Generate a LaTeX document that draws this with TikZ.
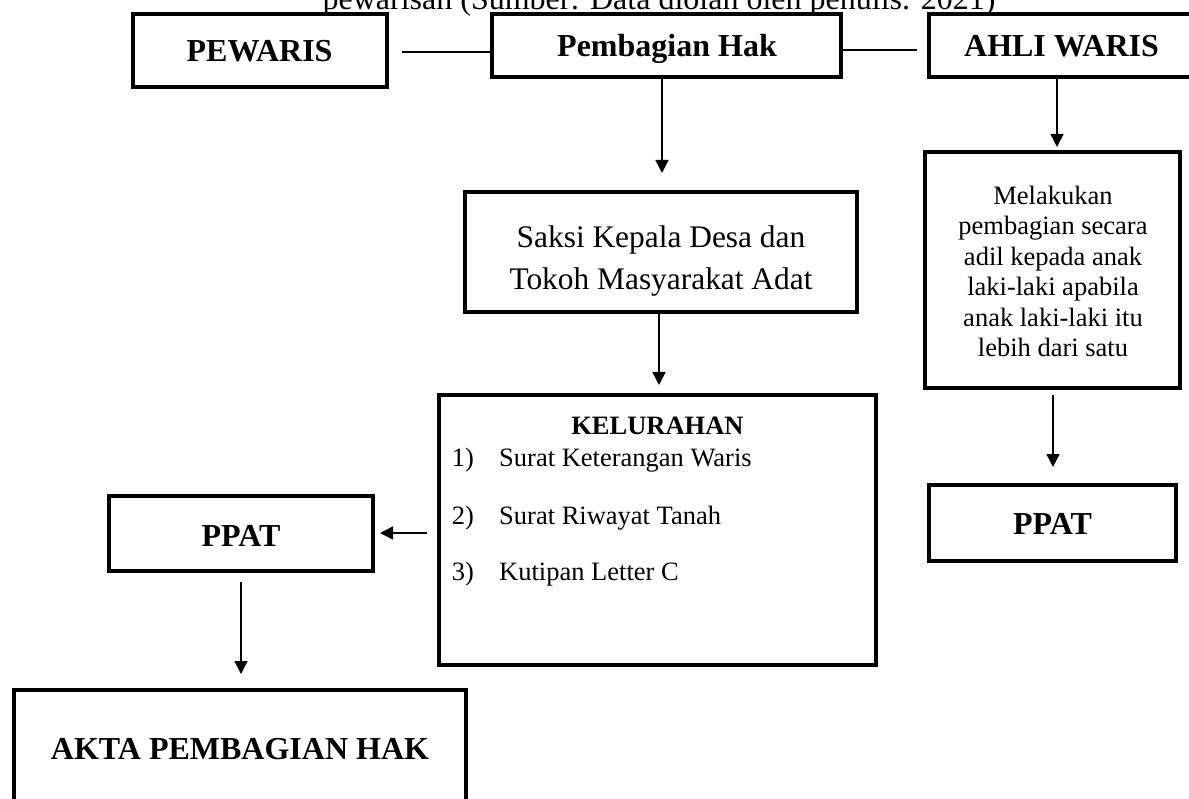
\documentclass[tikz,border=0pt]{standalone}
\usepackage{fontspec}
\setmainfont{Liberation Serif}
\usetikzlibrary{arrows.meta}
\begin{document}
\begin{tikzpicture}[x=1pt,y=-1pt,
  box/.style={draw,line width=4pt,inner sep=0pt,outer sep=0pt},
  bigtxt/.style={font=\fontsize{32}{38}\selectfont\bfseries,anchor=base,inner sep=0pt},
  ttltxt/.style={font=\fontsize{32}{38}\selectfont,anchor=base,inner sep=0pt},
  saksitxt/.style={font=\fontsize{31.4}{42}\selectfont,anchor=base,inner sep=0pt,align=center},
  medtxt/.style={font=\fontsize{26.5}{30.5}\selectfont,anchor=base,inner sep=0pt,align=center},
  itemtxt/.style={font=\fontsize{26.5}{30.5}\selectfont,anchor=base west,inner sep=0pt},
  conn/.style={line width=1.5pt},
  arr/.style={conn,-{Triangle[length=13pt,width=13pt]}}]
\useasboundingbox[fill=white] (0,0) rectangle (1189,799);

% title (cut at top)
\node[ttltxt] (title) at (659,10) {pewarisan (Sumber: Data diolah oleh penulis. 2021)};

% boxes
\node[box,minimum width=254pt,minimum height=73pt] (pew) at (260,50.5) {};
\node[box,minimum width=349pt,minimum height=63pt] (pem) at (666.5,45.5) {};
\node[box,minimum width=262pt,minimum height=63pt] (ahli) at (1060,45.5) {};
\node[box,minimum width=392pt,minimum height=120pt] (saksi) at (661,252) {};
\node[box,minimum width=437pt,minimum height=270pt] (kel) at (657.5,530) {};
\node[box,minimum width=255pt,minimum height=236pt] (mel) at (1052.5,270) {};
\node[box,minimum width=247pt,minimum height=76pt] (ppatR) at (1052.5,523) {};
\node[box,minimum width=264pt,minimum height=75pt] (ppatL) at (241,533.5) {};
\node[box,minimum width=452pt,minimum height=124pt] (akta) at (240,752) {};

% texts
\node[bigtxt] (tpew) at (259.6,62) {PEWARIS};
\node[bigtxt] (tpem) at (667,57) {Pembagian Hak};
\node[bigtxt] (tahli) at (1061.5,57) {AHLI WARIS};
\node[saksitxt] (tsaksi) at (661,290) {Saksi Kepala Desa dan\\Tokoh Masyarakat Adat};
\node[medtxt] (tmel) at (1053,357) {Melakukan\\pembagian secara\\adil kepada anak\\laki-laki apabila\\anak laki-laki itu\\lebih dari satu};
\node[font=\fontsize{26.5}{30.5}\selectfont\bfseries,anchor=base,inner sep=0pt] (tkel) at (657.5,435) {KELURAHAN};
\node[itemtxt] (n1) at (451.7,467) {1)};
\node[itemtxt] (i1) at (499,467) {Surat Keterangan Waris};
\node[itemtxt] (n2) at (451.7,524) {2)};
\node[itemtxt] (i2) at (499,524) {Surat Riwayat Tanah};
\node[itemtxt] (n3) at (451.7,580) {3)};
\node[itemtxt] (i3) at (499,580) {Kutipan Letter C};
\node[bigtxt] (tppatL) at (241,546) {PPAT};
\node[bigtxt] (tppatR) at (1052.5,534) {PPAT};
\node[bigtxt] (takta) at (240,759) {AKTA PEMBAGIAN HAK};

% connector guides
\coordinate (y1) at (0,52);
\coordinate (y2) at (0,50);
\coordinate (x1) at (662,0);
\coordinate (x2) at (659,0);
\coordinate (x3) at (1057,0);
\coordinate (x4) at (1053,0);
\coordinate (y3) at (0,533);
\coordinate (x5) at (241,0);

% connectors
\draw[conn,shorten <=15pt] (pew.east |- y1) -- (pem.west |- y1);
\draw[conn,shorten >=12pt] (pem.east |- y2) -- (ahli.west |- y2);
\draw[arr,shorten >=19pt] (pem.south -| x1) -- (saksi.north -| x1);
\draw[arr,shorten >=10pt] (saksi.south -| x2) -- (kel.north -| x2);
\draw[arr,shorten >=5pt] (ahli.south -| x3) -- (mel.north -| x3);
\draw[arr,shorten <=7pt,shorten >=18pt] (mel.south -| x4) -- (ppatR.north -| x4);
\draw[arr,shorten <=12pt,shorten >=7pt] (kel.west |- y3) -- (ppatL.east |- y3);
\draw[arr,shorten <=11pt,shorten >=16pt] (ppatL.south -| x5) -- (akta.north -| x5);
\end{tikzpicture}
\end{document}
